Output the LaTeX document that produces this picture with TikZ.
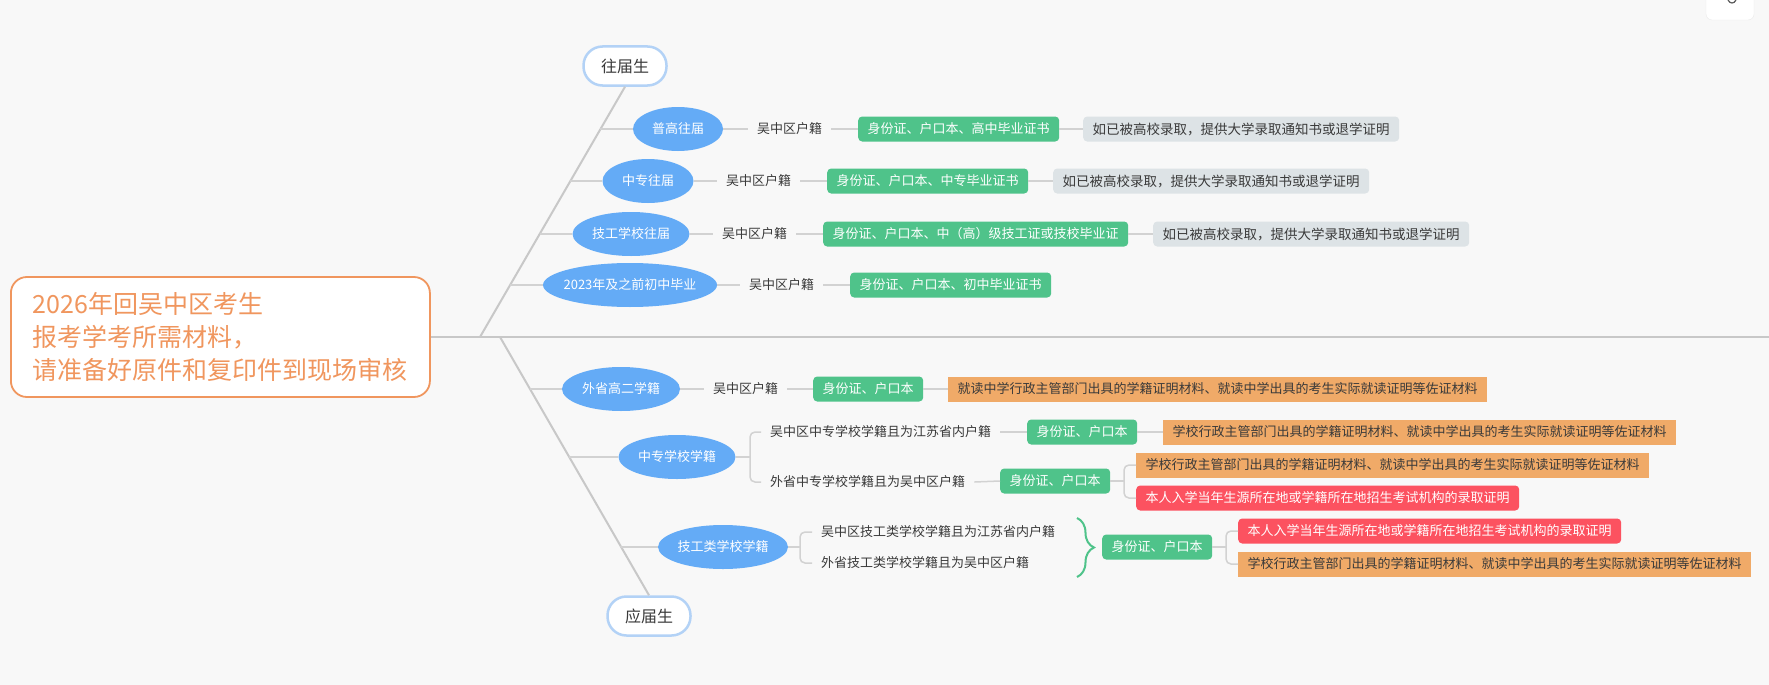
\documentclass[tikz,border=0pt]{standalone}
\usepackage{fontspec}
\setmainfont{Noto Sans CJK SC}
\usetikzlibrary{shapes.geometric,decorations.pathreplacing}
\definecolor{bgc}{HTML}{F8F8F8}
\definecolor{lnc}{HTML}{D2D2D2}
\definecolor{trc}{HTML}{C8C8C8}
\definecolor{bluec}{HTML}{64ABF6}
\definecolor{greenc}{HTML}{4FC38A}
\definecolor{grayc}{HTML}{DDE3E6}
\definecolor{orangec}{HTML}{F0AA68}
\definecolor{redc}{HTML}{FC5260}
\definecolor{rootc}{HTML}{F0965E}
\definecolor{pillc}{HTML}{B3D2F6}
\definecolor{txtc}{HTML}{3A3A3A}
\tikzset{
 conn/.style={draw=lnc, line width=1.5pt},
 trunk/.style={draw=trc, line width=2pt},
 oval/.style={ellipse, fill=bluec, text=white, minimum height=44pt, inner ysep=0pt, inner xsep=-20pt, font=\fontsize{13}{15}\selectfont},
 plain/.style={text=txtc, inner xsep=9pt, inner ysep=2pt, font=\fontsize{13}{15}\selectfont, anchor=west},
 gbox/.style={fill=greenc, text=white, rounded corners=4pt, minimum height=25pt, inner xsep=9.5pt, inner ysep=0pt, anchor=west, font=\fontsize{13}{15}\selectfont},
 nbox/.style={gbox, fill=grayc, text=txtc, font=\fontsize{13.5}{15}\selectfont},
 obox/.style={gbox, fill=orangec, text=txtc, sharp corners},
 rbox/.style={gbox, fill=redc},
 pill/.style={draw=pillc, line width=2.5pt, fill=white, rounded corners=19pt, minimum width=83pt, minimum height=39pt, text=txtc, font=\fontsize{16}{18}\selectfont},
 root/.style={draw=rootc, line width=1.8pt, fill=white, rounded corners=16pt, text=rootc, align=left, anchor=west, inner xsep=21pt, minimum width=419pt, minimum height=120pt, font=\fontsize{25}{33}\selectfont},
}
\begin{document}
\begin{tikzpicture}[x=1pt,y=-1pt]
\useasboundingbox (0,0) rectangle (1769,685);
\fill[bgc] (0,0) rectangle (1769,685);
% top-right button
\draw[draw=black!8, fill=white, rounded corners=6pt] (1706,-10) rectangle (1754,20);
\draw[black!65, line width=1.2pt] (1728,0) .. controls (1730,4) and (1734,4) .. (1736,0);

% root
\node[root] (root) at (10,337) {2026年回吴中区考生\\报考学考所需材料，\\请准备好原件和复印件到现场审核};
\coordinate (rEnd) at (1769,337);
\draw[trunk] (root.east) -- (rEnd);

% pills
\node[pill] (wjs) at (625,66) {往届生};
\node[pill] (yjs) at (649,616) {应届生};
\coordinate (up0) at (480,337);
\coordinate (lo0) at (500,337);
\draw[trunk] (up0) -- (wjs.south);
\draw[trunk] (lo0) -- (yjs.north);

% trunk points
\coordinate (t1) at (600,129);
\coordinate (t2) at (570,181);
\coordinate (t3) at (539.5,234);
\coordinate (t4) at (510,285);
\coordinate (t5) at (530,389);
\coordinate (t6) at (569,457);
\coordinate (t7) at (620,547);

% row 1
\node[oval, minimum width=90pt] (e1) at (678,129) {普高往届};
\node[plain] (h1) at (748,129) {吴中区户籍};
\node[gbox] (g1) at (858,129) {身份证、户口本、高中毕业证书};
\node[nbox] (n1) at (1083,129) {如已被高校录取，提供大学录取通知书或退学证明};
\draw[conn] (t1) -- (e1.west);
\draw[conn] (e1.east) -- (h1.west);
\draw[conn] (h1.east) -- (g1.west);
\draw[conn] (g1.east) -- (n1.west);

% row 2
\node[oval, minimum width=91pt] (e2) at (648,181) {中专往届};
\node[plain] (h2) at (717,181) {吴中区户籍};
\node[gbox] (g2) at (827,181) {身份证、户口本、中专毕业证书};
\node[nbox] (n2) at (1053,181) {如已被高校录取，提供大学录取通知书或退学证明};
\draw[conn] (t2) -- (e2.west);
\draw[conn] (e2.east) -- (h2.west);
\draw[conn] (h2.east) -- (g2.west);
\draw[conn] (g2.east) -- (n2.west);

% row 3
\node[oval, minimum width=117pt] (e3) at (631,234) {技工学校往届};
\node[plain] (h3) at (713,234) {吴中区户籍};
\node[gbox] (g3) at (823,234) {身份证、户口本、中（高）级技工证或技校毕业证};
\node[nbox] (n3) at (1153,234) {如已被高校录取，提供大学录取通知书或退学证明};
\draw[conn] (t3) -- (e3.west);
\draw[conn] (e3.east) -- (h3.west);
\draw[conn] (h3.east) -- (g3.west);
\draw[conn] (g3.east) -- (n3.west);

% row 4
\node[oval, minimum width=174pt] (e4) at (630,285) {2023年及之前初中毕业};
\node[plain] (h4) at (740,285) {吴中区户籍};
\node[gbox] (g4) at (850,285) {身份证、户口本、初中毕业证书};
\draw[conn] (t4) -- (e4.west);
\draw[conn] (e4.east) -- (h4.west);
\draw[conn] (h4.east) -- (g4.west);

% row 5
\node[oval, minimum width=118pt] (e5) at (621,389) {外省高二学籍};
\node[plain] (h5) at (704,389) {吴中区户籍};
\node[gbox] (g5) at (813,389) {身份证、户口本};
\node[obox] (o5) at (948,389) {就读中学行政主管部门出具的学籍证明材料、就读中学出具的考生实际就读证明等佐证材料};
\draw[conn] (t5) -- (e5.west);
\draw[conn] (e5.east) -- (h5.west);
\draw[conn] (h5.east) -- (g5.west);
\draw[conn] (g5.east) -- (o5.west);

% row 6
\node[oval, minimum width=117pt] (e6) at (677,457) {中专学校学籍};
\coordinate (k6) at (750,457);
\node[plain] (s6a) at (761,432) {吴中区中专学校学籍且为江苏省内户籍};
\node[plain] (s6b) at (761,482) {外省中专学校学籍且为吴中区户籍};
\draw[conn] (t6) -- (e6.west);
\draw[conn] (e6.east) -- (k6);
\draw[conn, rounded corners=5pt] (s6a.west) -| (k6) |- (s6b.west);
\node[gbox] (g6a) at (1027,432) {身份证、户口本};
\node[obox] (o6a) at (1163,432) {学校行政主管部门出具的学籍证明材料、就读中学出具的考生实际就读证明等佐证材料};
\draw[conn] (s6a.east) -- (g6a.west);
\draw[conn] (g6a.east) -- (o6a.west);
\node[gbox] (g6b) at (1000,481) {身份证、户口本};
\draw[conn] (s6b.east) -- (g6b.west);
\coordinate (k6b) at (1124,481);
\node[obox] (o6b) at (1136,465) {学校行政主管部门出具的学籍证明材料、就读中学出具的考生实际就读证明等佐证材料};
\node[rbox] (r6b) at (1136,498) {本人入学当年生源所在地或学籍所在地招生考试机构的录取证明};
\draw[conn] (g6b.east) -- (k6b);
\draw[conn, rounded corners=5pt] (o6b.west) -| (k6b) |- (r6b.west);

% row 7
\node[oval, minimum width=130pt] (e7) at (723,547) {技工类学校学籍};
\coordinate (k7) at (800,547);
\node[plain] (s7a) at (812,532) {吴中区技工类学校学籍且为江苏省内户籍};
\node[plain] (s7b) at (812,563) {外省技工类学校学籍且为吴中区户籍};
\draw[conn] (t7) -- (e7.west);
\draw[conn] (e7.east) -- (k7);
\draw[conn, rounded corners=5pt] (s7a.west) -| (k7) |- (s7b.west);
\coordinate (bt) at (1077,518);
\coordinate (bb) at (1077,577);
\draw[draw=greenc, line width=2pt, decorate, decoration={brace, amplitude=17pt, aspect=0.5}] (bt) -- (bb);
\node[gbox] (g7) at (1102,547) {身份证、户口本};
\coordinate (k7b) at (1226,547);
\node[rbox] (r7) at (1238,531) {本人入学当年生源所在地或学籍所在地招生考试机构的录取证明};
\node[obox] (o7) at (1238,564) {学校行政主管部门出具的学籍证明材料、就读中学出具的考生实际就读证明等佐证材料};
\draw[conn] (g7.east) -- (k7b);
\draw[conn, rounded corners=5pt] (r7.west) -| (k7b) |- (o7.west);
\end{tikzpicture}
\end{document}
